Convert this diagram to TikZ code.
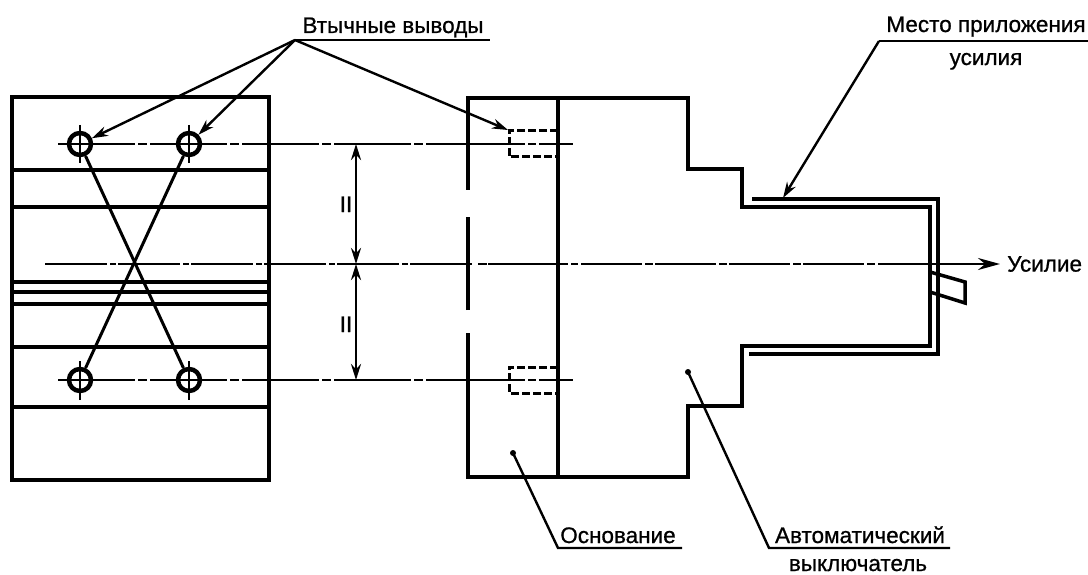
\documentclass[tikz,border=0pt]{standalone}
\usepackage{fontspec}
\setmainfont{Liberation Sans}
\newfontfamily\labelfont[FakeBold=0.8]{Liberation Sans}
\usetikzlibrary{arrows.meta}
\tikzset{
	body/.style = {line width=4.5pt},
	shell/.style = {line width=3.5pt},
	hidden/.style = {line width=3pt, dash pattern=on 8pt off 3pt},
	axis/.style = {line width=2.6pt},
	leader/.style = {line width=2.4pt},
	arrowed/.style = {leader, -{Stealth[length=16pt,width=10pt]}},
	pin/.style = {circle, draw, line width=4.5pt, inner sep=0pt, minimum size=22pt},
	label/.style = {font=\labelfont\fontsize{22.5}{26}\selectfont, anchor=base, inner sep=0pt}
}
\begin{document}
\begin{tikzpicture}[x=1pt, y=-1pt]
	\useasboundingbox (0,0) rectangle (1088,575);
	%left view
	\draw[body] (12,97) rectangle (269,480);
	\draw[body] (12,170) -- (269,170);
	\draw[body] (12,207) -- (269,207);
	\draw[body] (12,282) -- (269,282);
	\draw[shell] (12,292) -- (269,292);
	\draw[body] (12,304) -- (269,304);
	\draw[body] (12,347) -- (269,347);
	\draw[body] (12,407) -- (269,407);
	%terminals and cross wiring
	\node[pin] (pinA) at (80,144) {};
	\node[pin] (pinB) at (189,144) {};
	\node[pin] (pinC) at (80,380) {};
	\node[pin] (pinD) at (189,380) {};
	\draw[axis] (80,125) -- (80,163);
	\draw[axis] (189,125) -- (189,163);
	\draw[axis] (80,361) -- (80,400);
	\draw[axis] (189,361) -- (189,400);
	\draw[line width=3pt] (pinA) -- (pinD);
	\draw[line width=3pt] (pinB) -- (pinC);
	%axis lines
	\draw[axis, dash pattern=on 77pt off 3pt on 9pt off 3pt] (58,144) -- (423,144);
	\draw[axis, dash pattern=on 99pt off 3pt on 8pt off 3pt] (426,144) -- (573,144);
	\draw[axis, dash pattern=on 77pt off 3pt on 9pt off 3pt] (58,380) -- (423,380);
	\draw[axis, dash pattern=on 99pt off 3pt on 8pt off 3pt] (426,380) -- (573,380);
	\draw[axis, dash pattern=on 62pt off 3pt on 6pt off 2pt] (45,264) -- (475,264);
	\draw[axis, dash pattern=on 9pt off 1pt on 80pt off 3pt on 7pt off 3pt] (478,264) -- (581,264);
	\draw[axis, dash pattern=on 61pt off 3pt on 8pt off 2pt] (581,264) -- (876,264);
	%main body
	\draw[body] (468,98) -- (688,98) -- (688,169) -- (742,169) -- (742,207) -- (930,207) -- (930,346) -- (742,346) -- (742,406) -- (688,406) -- (688,477) -- (468,477) -- (468,333);
	\draw[body] (468,310) -- (468,217);
	\draw[body] (468,190) -- (468,96);
	\draw[body] (558,98) -- (558,477);
	%outer shell and handle
	\draw[shell] (752,199) -- (938,199) -- (938,354) -- (749,354);
	\draw[shell] (930,272) -- (965,282) -- (965,303) -- (930,292);
	%hidden holes
	\draw[hidden] (558,131) -- (509,131) -- (509,157) -- (558,157);
	\draw[hidden] (558,367) -- (509,367) -- (509,393) -- (558,393);
	%spacing dimensions
	\coordinate (dimTop) at (356,144);
	\coordinate (dimMid) at (356,264);
	\coordinate (dimBot) at (356,380);
	\draw[leader, {Stealth[length=16pt,width=10pt]}-{Stealth[length=16pt,width=10pt]}] (dimTop) -- (dimMid);
	\draw[leader, {Stealth[length=16pt,width=10pt]}-{Stealth[length=16pt,width=10pt]}] (dimMid) -- (dimBot);
	\node[label] (gapTop) at (346,212) {II};
	\node[label] (gapBot) at (346,332) {II};
	%terminals callout
	\node[label] (pinsText) at (393,33) {Втычные выводы};
	\coordinate (pinsFork) at (295,40);
	\coordinate (pinsEnd) at (490,40);
	\coordinate (holeTop) at (508,130);
	\draw[leader] (pinsFork) -- (pinsEnd);
	\draw[arrowed] (pinsFork) -- (pinA);
	\draw[arrowed] (pinsFork) -- (pinB);
	\draw[arrowed] (pinsFork) -- (holeTop);
	%force application callout
	\node[label] (placeText) at (986,32) {Место приложения};
	\node[label] (placeTextB) at (986,65) {усилия};
	\coordinate (placeFork) at (879,41);
	\coordinate (placeEnd) at (1088,41);
	\coordinate (placeTip) at (783,198);
	\draw[leader] (placeFork) -- (placeEnd);
	\draw[arrowed] (placeFork) -- (placeTip);
	%force arrow
	\node[label, anchor=west] (forceText) at (1007,264) {Усилие};
	\coordinate (forceStart) at (878,264);
	\draw[axis, shorten >=7pt, -{Stealth[length=22pt,width=12pt]}] (forceStart) -- (forceText.west);
	%base callout
	\node[label] (baseText) at (618,543) {Основание};
	\coordinate (baseFork) at (558,548);
	\coordinate (baseEnd) at (682,548);
	\coordinate (baseDot) at (513,453);
	\draw[leader] (baseEnd) -- (baseFork) -- (baseDot);
	\fill (baseDot) circle (3pt);
	%breaker callout
	\node[label] (breakerText) at (860,543) {Автоматический};
	\node[label] (breakerTextB) at (858,571) {выключатель};
	\coordinate (breakerFork) at (769,548);
	\coordinate (breakerEnd) at (950,548);
	\coordinate (breakerDot) at (688,372);
	\draw[leader] (breakerEnd) -- (breakerFork) -- (breakerDot);
	\fill (breakerDot) circle (3pt);
\end{tikzpicture}
\end{document}
